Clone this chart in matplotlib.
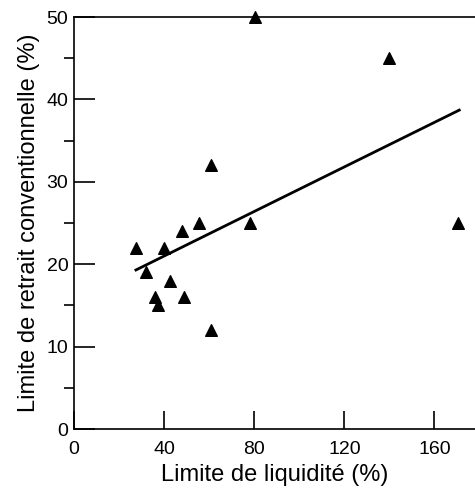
import numpy as np
import matplotlib.pyplot as plt
from matplotlib.ticker import MultipleLocator

plt.rcParams['font.family'] = ['Liberation Sans', 'DejaVu Sans']

# liquid limit (%) and shrinkage limit (%)
wl = [27.5, 32, 40, 48, 55.5, 78, 42.5, 36, 37.5, 49, 61, 170.5, 80.5, 140, 61]
ws = [22, 19, 22, 24, 25, 25, 18, 16, 15, 16, 12, 25, 50, 45, 32]

# trend line end points
fit_x = [27.5, 171]
fit_y = [19.3, 38.7]

fig = plt.figure(figsize=(4.75, 4.9), dpi=100)
ax = fig.add_axes([74/475, 1-429/490, 1-74/475, (429-17)/490])

ax.scatter(wl, ws, marker='^', s=70, c='black', clip_on=False, zorder=3)
ax.plot(fit_x, fit_y, color='black', lw=2)

ax.set_xlim(0, 178)
ax.set_ylim(0, 50)
ax.xaxis.set_major_locator(MultipleLocator(40))
ax.yaxis.set_major_locator(MultipleLocator(10))
ax.yaxis.set_minor_locator(MultipleLocator(5))
ax.tick_params(direction='in', labelsize=14)
ax.tick_params(axis='x', length=13, width=1.2, pad=9)
ax.tick_params(axis='y', which='major', length=15, width=1.2, pad=4)
ax.tick_params(axis='y', which='minor', length=7, width=1.2)
ax.spines['right'].set_visible(False)
for s in ['left', 'bottom', 'top']:
    ax.spines[s].set_linewidth(1.2)

ax.set_xlabel('Limite de liquidité (%)', fontsize=17, labelpad=4)
ax.set_ylabel('Limite de retrait conventionnelle (%)', fontsize=17, labelpad=5)

fig.savefig('out.png', dpi=100)
